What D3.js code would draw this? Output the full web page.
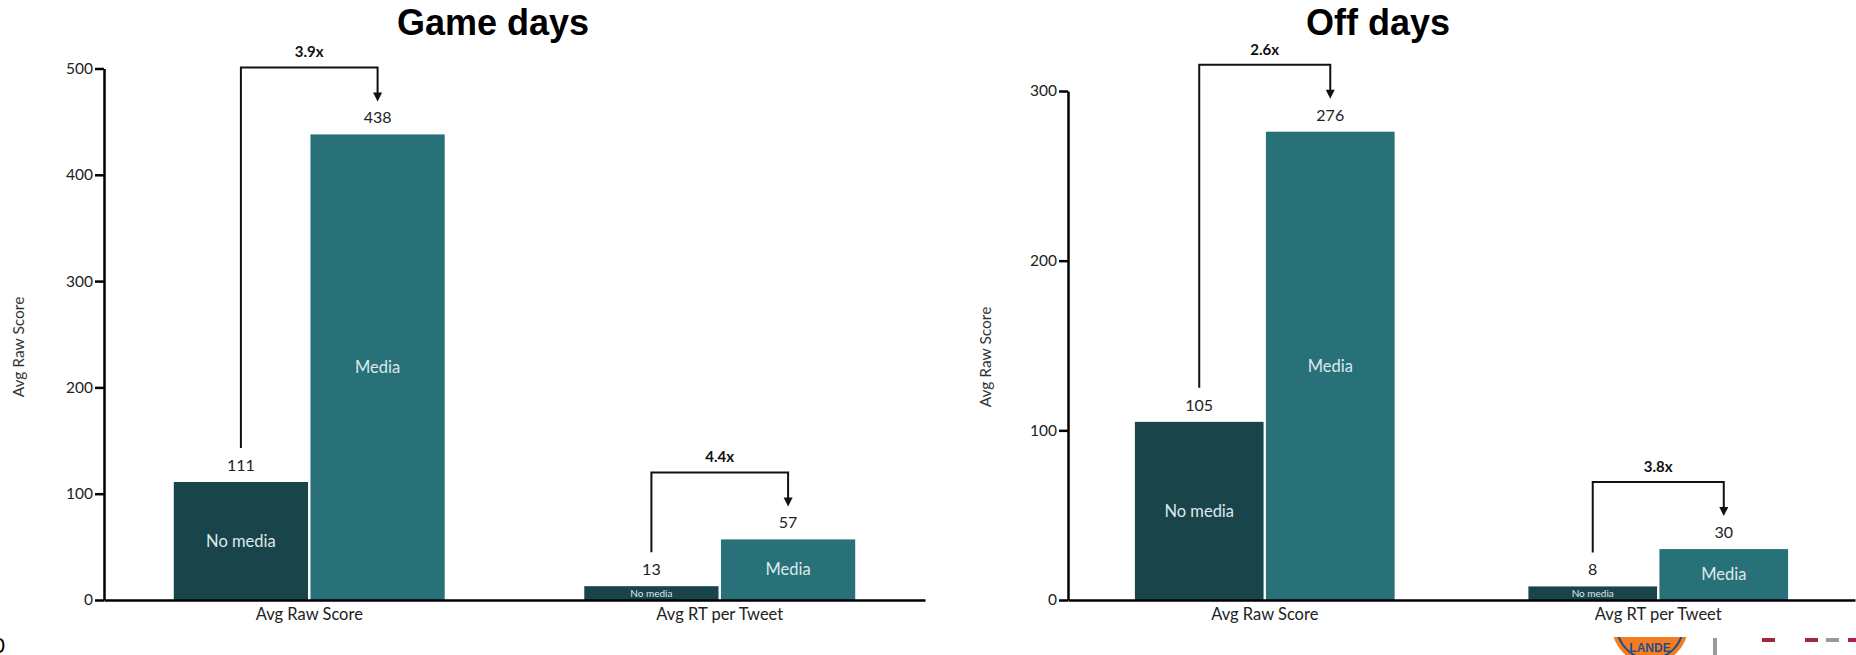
<!DOCTYPE html>
<html>
<head>
<meta charset="utf-8">
<script src="https://cdn.jsdelivr.net/npm/d3@7"></script>
<style>
  html, body { margin: 0; padding: 0; background: #fff; }
  svg { display: block; }
</style>
</head>
<body>
<svg id="chart" width="1856" height="655"></svg>
<script>
// ---------- data ----------
const categories = ["Avg Raw Score", "Avg RT per Tweet"];
const seriesNames = ["No media", "Media"];
const gameNoMedia = [111, 13];
const gameMedia = [438, 57];
const gameRatios = ["3.9x", "4.4x"];
const gameTicks = [0, 100, 200, 300, 400, 500];
const offNoMedia = [105, 8];
const offMedia = [276, 30];
const offRatios = ["2.6x", "3.8x"];
const offTicks = [0, 100, 200, 300];
const yAxisTitle = "Avg Raw Score";

// ---------- style ----------
const FONT = "Lato, 'Open Sans', sans-serif";
const colors = { "No media": "#19444a", "Media": "#287179" };
const svg = d3.select("#chart");

function drawPanel(opt) {
  const g = svg.append("g");
  const x0 = d3.scaleBand().domain(categories).range([opt.left, opt.right])
    .paddingInner(0.34).paddingOuter(0.17);
  const x1 = d3.scaleBand().domain(seriesNames).range([0, x0.bandwidth()]).paddingInner(0.018);
  const y = d3.scaleLinear().domain([0, opt.max]).range([opt.bottom, opt.top]);

  // title
  g.append("text").attr("x", opt.titleX).attr("y", 35)
    .attr("text-anchor", "middle")
    .attr("font-family", "'Liberation Sans', Arial, sans-serif")
    .attr("font-weight", "bold").attr("font-size", 36).attr("fill", "#000")
    .text(opt.title);

  // y axis title
  g.append("text")
    .attr("transform", `translate(${opt.yTitleX},${opt.yTitleY}) rotate(-90)`)
    .attr("text-anchor", "middle").attr("dy", "0.35em")
    .attr("font-family", FONT).attr("font-size", 15.5).attr("fill", "#333")
    .text(yAxisTitle);

  const rows = categories.map((c, i) => ({
    cat: c, vals: [opt.noMedia[i], opt.media[i]], ratio: opt.ratios[i]
  }));

  // bars
  const grp = g.selectAll("g.grp").data(rows).join("g")
    .attr("transform", d => `translate(${x0(d.cat)},0)`);
  grp.selectAll("rect").data(d => d.vals.map((v, k) => ({ s: seriesNames[k], v })))
    .join("rect")
    .attr("x", d => x1(d.s)).attr("width", x1.bandwidth())
    .attr("y", d => y(d.v)).attr("height", d => y(0) - y(d.v))
    .attr("fill", d => colors[d.s]);
  // value labels
  grp.selectAll("text.val").data(d => d.vals.map((v, k) => ({ s: seriesNames[k], v })))
    .join("text").attr("class", "val")
    .attr("x", d => x1(d.s) + x1.bandwidth() / 2).attr("y", d => y(d.v) - 11)
    .attr("text-anchor", "middle").attr("font-family", FONT).attr("font-size", 16)
    .attr("fill", "#222").text(d => d.v);
  // in-bar labels
  grp.selectAll("text.in").data(d => d.vals.map((v, k) => ({ s: seriesNames[k], v })))
    .join("text").attr("class", "in")
    .attr("x", d => x1(d.s) + x1.bandwidth() / 2)
    .attr("y", d => (y(d.v) + y(0)) / 2)
    .attr("dy", "0.35em")
    .attr("text-anchor", "middle").attr("font-family", FONT)
    .attr("font-size", d => (y(0) - y(d.v)) < 25 ? 10 : 16.5)
    .attr("fill", "#dde9ea").text(d => d.s);

  // brackets
  rows.forEach(r => {
    const xa = x0(r.cat) + x1("No media") + x1.bandwidth() / 2;
    const xb = x0(r.cat) + x1("Media") + x1.bandwidth() / 2;
    const yA = y(r.vals[0]) - 34;
    const yTopB = y(r.vals[1]) - 67;
    const tip = y(r.vals[1]) - 33;
    g.append("path")
      .attr("d", `M${xa},${yA}V${yTopB}H${xb}V${tip - 8}`)
      .attr("fill", "none").attr("stroke", "#111").attr("stroke-width", 2);
    g.append("path")
      .attr("d", `M${xb - 4.5},${tip - 9}L${xb + 4.5},${tip - 9}L${xb},${tip}Z`)
      .attr("fill", "#111");
    g.append("text").attr("x", (xa + xb) / 2).attr("y", yTopB - 10)
      .attr("text-anchor", "middle").attr("font-family", FONT)
      .attr("font-weight", "bold").attr("font-size", 15).attr("fill", "#111")
      .text(r.ratio);
  });

  // y axis
  const ya = g.append("g").attr("transform", `translate(${opt.left},0)`)
    .call(d3.axisLeft(y).tickValues(opt.ticks).tickSize(9).tickSizeOuter(0).tickPadding(2));
  ya.select(".domain").attr("stroke", "#000").attr("stroke-width", 2.5);
  ya.selectAll(".tick line").attr("stroke", "#000").attr("stroke-width", 2.5);
  ya.selectAll(".tick text").attr("font-family", FONT).attr("font-size", 15.5).attr("fill", "#222");

  // x axis
  const xa = g.append("g").attr("transform", `translate(0,${opt.bottom})`)
    .call(d3.axisBottom(x0).tickSize(0).tickSizeOuter(0).tickPadding(8));
  xa.select(".domain").attr("stroke", "#000").attr("stroke-width", 2.5);
  xa.selectAll(".tick text").attr("font-family", FONT).attr("font-size", 16.5).attr("fill", "#222");
}

drawPanel({
  title: "Game days", titleX: 493, left: 104, right: 925, top: 68.5, bottom: 600,
  max: 500, ticks: gameTicks, noMedia: gameNoMedia, media: gameMedia, ratios: gameRatios,
  yTitleX: 19, yTitleY: 347
});
drawPanel({
  title: "Off days", titleX: 1378, left: 1068, right: 1855, top: 91, bottom: 600,
  max: 300, ticks: offTicks, noMedia: offNoMedia, media: offMedia, ratios: offRatios,
  yTitleX: 986, yTitleY: 357
});

// ---------- page decorations (slide footer) ----------
svg.append("text").attr("x", 5).attr("y", 653).attr("text-anchor", "end")
  .attr("font-family", FONT).attr("font-size", 21).attr("fill", "#000").text("0");
const clip = svg.append("clipPath").attr("id", "logoClip");
clip.append("rect").attr("x", 1600).attr("y", 637).attr("width", 100).attr("height", 20);
const logo = svg.append("g").attr("clip-path", "url(#logoClip)");
logo.append("circle").attr("cx", 1650).attr("cy", 626).attr("r", 38).attr("fill", "#f57d20");
logo.append("circle").attr("cx", 1650).attr("cy", 626).attr("r", 33).attr("fill", "none")
  .attr("stroke", "#1d4f91").attr("stroke-width", 2);
logo.append("text").attr("x", 1650).attr("y", 652).attr("text-anchor", "middle")
  .attr("font-family", "'Liberation Sans', Arial, sans-serif").attr("font-weight", "bold")
  .attr("font-size", 12).attr("fill", "#1d4f91").text("LANDE");
svg.append("rect").attr("x", 1713).attr("y", 638).attr("width", 4).attr("height", 17).attr("fill", "#9a9a9a");
[[1762, "#a3243b"], [1805, "#a3243b"], [1826, "#9a9a9a"], [1848, "#a3243b"]].forEach(([x, c]) => {
  svg.append("rect").attr("x", x).attr("y", 638).attr("width", 13).attr("height", 4).attr("fill", c);
});
</script>
</body>
</html>
